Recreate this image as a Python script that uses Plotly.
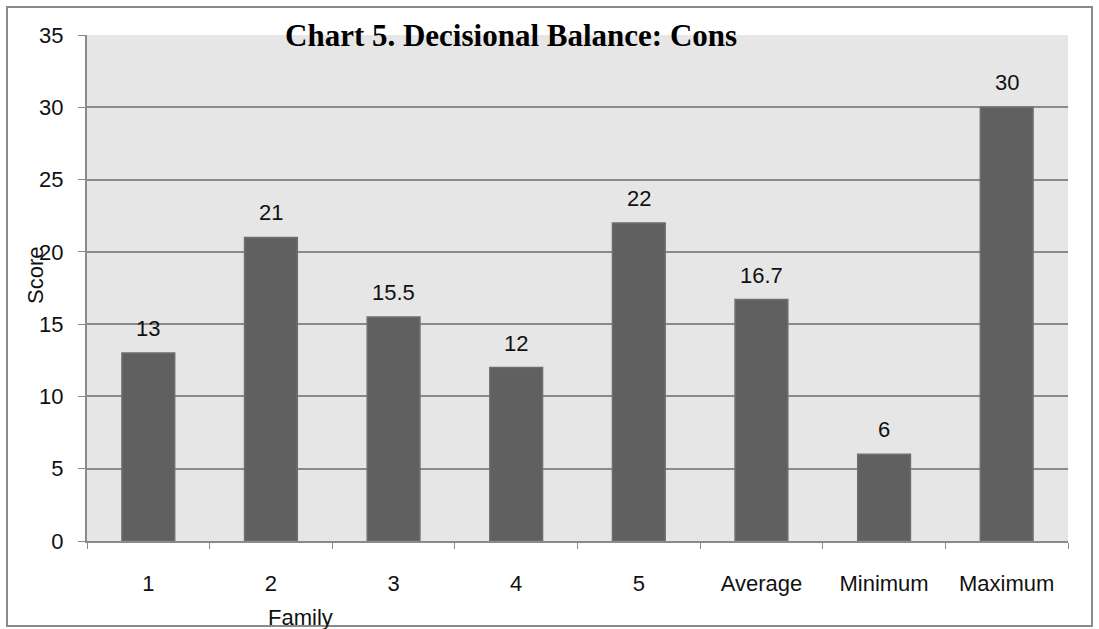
import plotly.graph_objects as go

# chart data
categories = ["1", "2", "3", "4", "5", "Average", "Minimum", "Maximum"]
scores = [13, 21, 15.5, 12, 22, 16.7, 6, 30]
score_labels = ["13", "21", "15.5", "12", "22", "16.7", "6", "30"]
y_ticks = [0, 5, 10, 15, 20, 25, 30, 35]

W, H = 1099, 629
L, R, T, B = 87, 31, 35, 88
pw, ph = W - L - R, H - T - B


def px_x(px):
    return (px - L) / pw


def px_y(py):
    return (H - B - py) / ph


sans = "Liberation Sans, Arial, sans-serif"
serif = "Liberation Serif, Times New Roman, serif"

fig = go.Figure()
fig.add_trace(go.Bar(
    x=categories,
    y=scores,
    marker=dict(color="#606060", line=dict(color="#6e6e6e", width=1.5)),
    showlegend=False,
))

# value labels sit a bit above each bar (category axis -> position index)
for i, (val, lab) in enumerate(zip(scores, score_labels)):
    fig.add_annotation(
        x=i, y=val, text=lab, showarrow=False,
        yanchor="bottom", yshift=10,
        font=dict(family=sans, size=22, color="#111111"),
    )

fig.update_layout(
    width=W, height=H,
    margin=dict(l=L, r=R, t=T, b=B),
    paper_bgcolor="white",
    plot_bgcolor="#e6e6e6",
    bargap=0.57,
    font=dict(family=sans, size=22, color="#111111"),
    xaxis=dict(
        type="category",
        tickson="boundaries",
        ticks="outside",
        ticklen=6,
        tickcolor="#8a8a8a",
        showline=True,
        linecolor="#8a8a8a",
        linewidth=2,
        showgrid=False,
        tickfont=dict(family=sans, size=22, color="#111111"),
        ticklabelstandoff=22,
    ),
    yaxis=dict(
        range=[0, 35],
        tickvals=y_ticks,
        ticks="outside",
        ticklen=7,
        tickcolor="#8a8a8a",
        showline=True,
        linecolor="#8a8a8a",
        linewidth=2,
        showgrid=True,
        gridcolor="#8a8a8a",
        gridwidth=2,
        zeroline=False,
        tickfont=dict(family=sans, size=22, color="#111111"),
        ticklabelstandoff=10,
    ),
    shapes=[
        dict(type="rect", xref="paper", yref="paper", layer="above",
             x0=px_x(7), x1=px_x(1092), y0=px_y(626), y1=px_y(7),
             line=dict(color="#8a8a8a", width=2), fillcolor="rgba(0,0,0,0)"),
    ],
)

fig.add_annotation(text="<b>Chart 5. Decisional Balance: Cons</b>", xref="paper", yref="paper",
                   x=px_x(511), y=px_y(36), xanchor="center", yanchor="middle", showarrow=False,
                   font=dict(family=serif, size=31, color="#000000"))
fig.add_annotation(text="Score", xref="paper", yref="paper", textangle=-90,
                   x=px_x(35), y=px_y(276), xanchor="center", yanchor="middle", showarrow=False,
                   font=dict(family=sans, size=22, color="#111111"))
fig.add_annotation(text="Family", xref="paper", yref="paper",
                   x=px_x(300), y=px_y(617), xanchor="center", yanchor="middle", showarrow=False,
                   font=dict(family=sans, size=22, color="#111111"))

fig.write_html("out.html", config={"displayModeBar": False},
               post_script="document.body.style.margin='0';")
